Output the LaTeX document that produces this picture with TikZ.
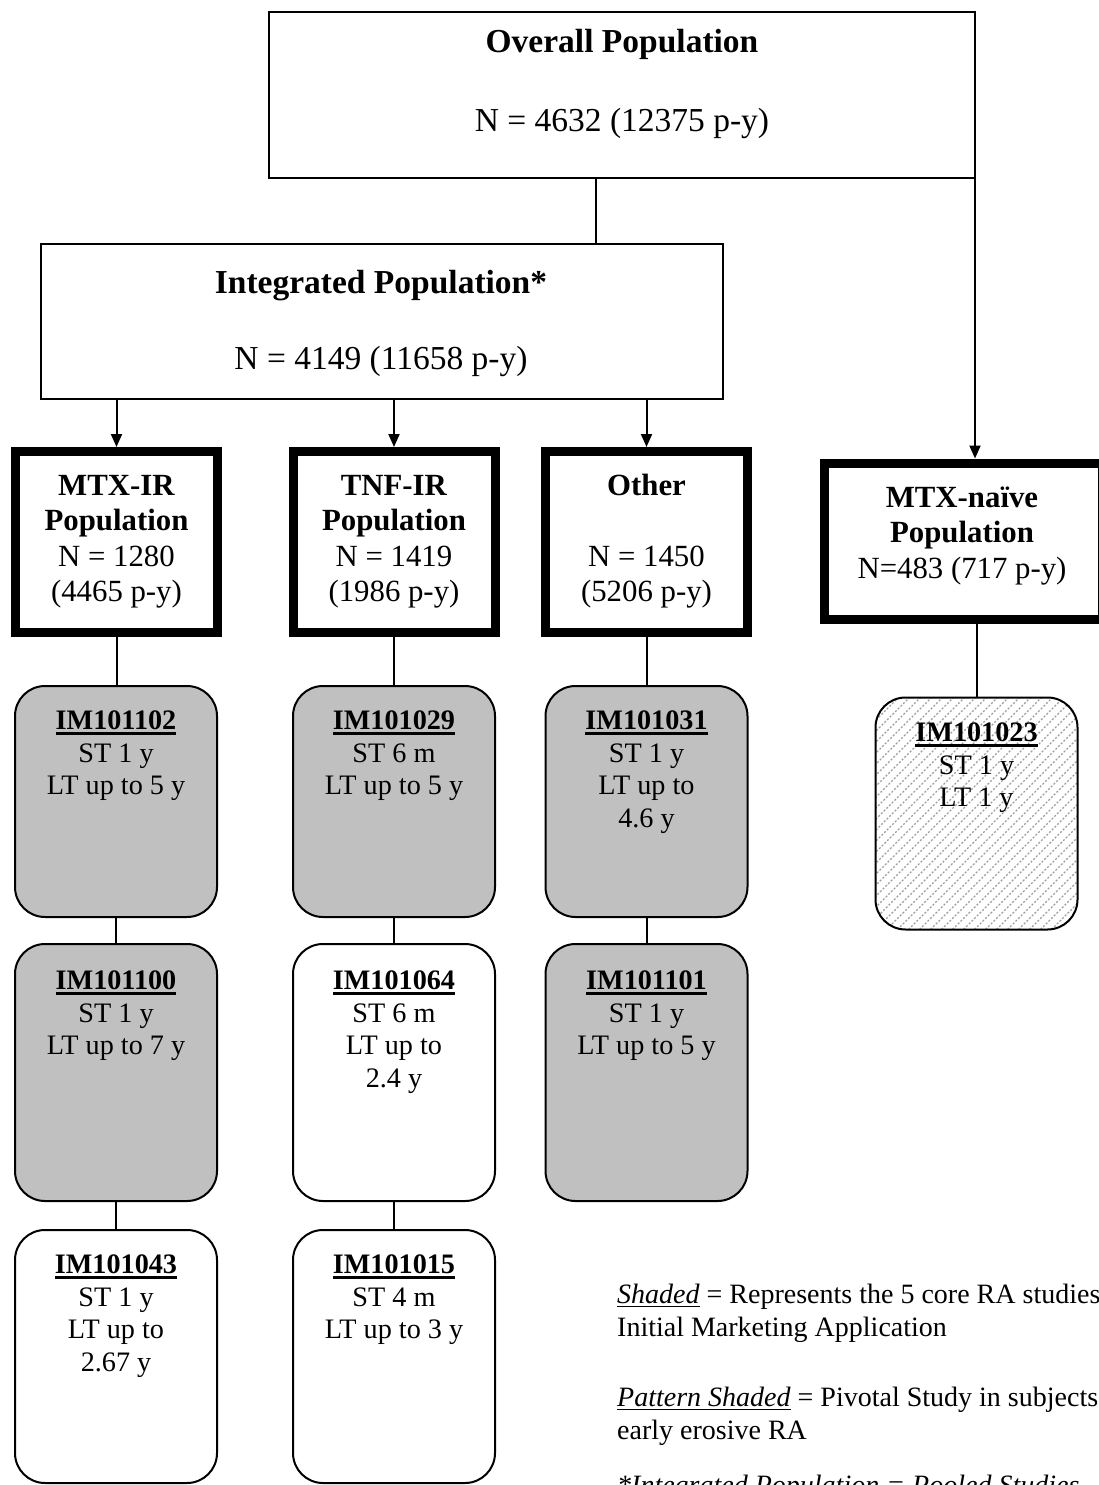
\documentclass[tikz,border=0pt]{standalone}
\usepackage{fontspec}
\setmainfont{Liberation Serif}
\usetikzlibrary{arrows.meta,calc}
\definecolor{shade}{RGB}{192,192,192}
\newcommand{\mylines}[1]{\begin{tabular}[t]{@{}c@{}}#1\end{tabular}}
\newcommand{\ulbox}[3]{\setbox0=\hbox{#3}\rlap{\rule[-#1]{\wd0}{#2}}\box0\relax}
\newcommand{\sid}[1]{\ulbox{5pt}{2.6pt}{\textbf{#1}}}
\begin{document}
\begin{tikzpicture}[x=1pt,y=-1pt,
  bigbox/.style={draw, line width=2pt, inner sep=0pt, outer sep=0pt},
  popbox/.style={draw, line width=9pt, inner sep=0pt, fill=white, minimum width=202pt, minimum height=181pt},
  studybox/.style={draw, line width=2pt, rounded corners=30pt, inner sep=0pt, outer sep=0pt, minimum width=202pt},
  shaded/.style={fill=shade},
  txtbig/.style={inner sep=0pt, anchor=base, font=\fontsize{33.5}{39.5}\selectfont},
  txtpop/.style={inner sep=0pt, anchor=base, font=\fontsize{30.8}{35.3}\selectfont},
  txtstudy/.style={inner sep=0pt, anchor=base, font=\fontsize{28.2}{32.5}\selectfont},
  legend/.style={inner sep=0pt, anchor=base west, font=\fontsize{28}{33}\selectfont},
  conn/.style={line width=2pt},
  arr/.style={line width=2pt, -{Triangle[length=13pt,width=11pt]}},
  patfill/.style={path picture={
     \foreach \i in {-242,-231,...,210} {
       \draw[gray!75, line width=1.3pt, dash pattern=on 2pt off 1.8pt]
         ($(path picture bounding box.south west)+(\i,0)$) -- ++(260,-260);
     }}}
]
\useasboundingbox (0,0) rectangle (1099,1485);
\fill[white] (0,0) rectangle (1099,1485);
\clip (0,0) rectangle (1099,1485);

% top boxes
\node[bigbox, minimum width=706pt, minimum height=166pt] (ov) at (622,95) {};
\node[txtbig] (ovt) at (622,53) {\mylines{\textbf{Overall Population}\\[39.5pt] N = 4632 (12375 p-y)}};

\node[bigbox, minimum width=682pt, minimum height=155pt] (int) at (382,321.5) {};
\node[txtbig] (intt) at (381,293) {\mylines{\textbf{Integrated Population*}\\[36.5pt] N = 4149 (11658 p-y)}};

% population boxes
\node[popbox] (mtx) at (116.5,542) {};
\node[popbox] (tnf) at (394,542) {};
\node[popbox] (oth) at (646.5,542) {};
\node[popbox, minimum width=278pt, minimum height=156pt] (naive) at (963,541) {};

\node[txtpop] (mtxt) at (116.5,495.5) {\mylines{\textbf{MTX-IR}\\\textbf{Population}\\N = 1280\\(4465 p-y)}};
\node[txtpop] (tnft) at (394,495.5) {\mylines{\textbf{TNF-IR}\\\textbf{Population}\\N = 1419\\(1986 p-y)}};
\node[txtpop] (otht) at (646.5,495.5) {\mylines{\textbf{Other}\\ \\N = 1450\\(5206 p-y)}};
\node[txtpop] (naivet) at (962,507.5) {\mylines{\textbf{MTX-naïve}\\\textbf{Population}\\N=483 (717 p-y)}};

% study boxes
\node[studybox, shaded, minimum height=231pt] (s11) at (116,801.5) {};
\node[studybox, shaded, minimum height=257pt] (s12) at (116,1072.5) {};
\node[studybox, minimum height=253pt] (s13) at (116,1356.5) {};
\node[studybox, shaded, minimum height=231pt] (s21) at (394,801.5) {};
\node[studybox, minimum height=257pt] (s22) at (394,1072.5) {};
\node[studybox, minimum height=253pt] (s23) at (394,1356.5) {};
\node[studybox, shaded, minimum height=231pt] (s31) at (646.5,801.5) {};
\node[studybox, shaded, minimum height=257pt] (s32) at (646.5,1072.5) {};
\node[studybox, patfill, minimum height=232pt] (pat) at (976.5,813.5) {};

\node[txtstudy] (s11t) at (116,729.5) {\mylines{\sid{IM101102}\\ST 1 y\\LT up to 5 y}};
\node[txtstudy] (s12t) at (116,989.5) {\mylines{\sid{IM101100}\\ST 1 y\\LT up to 7 y}};
\node[txtstudy] (s13t) at (116,1273.5) {\mylines{\sid{IM101043}\\ST 1 y\\LT up to\\2.67 y}};
\node[txtstudy] (s21t) at (394,729.5) {\mylines{\sid{IM101029}\\ST 6 m\\LT up to 5 y}};
\node[txtstudy] (s22t) at (394,989.5) {\mylines{\sid{IM101064}\\ST 6 m\\LT up to\\2.4 y}};
\node[txtstudy] (s23t) at (394,1273.5) {\mylines{\sid{IM101015}\\ST 4 m\\LT up to 3 y}};
\node[txtstudy] (s31t) at (646.5,729.5) {\mylines{\sid{IM101031}\\ST 1 y\\LT up to\\4.6 y}};
\node[txtstudy] (s32t) at (646.5,989.5) {\mylines{\sid{IM101101}\\ST 1 y\\LT up to 5 y}};
\node[txtstudy] (patt) at (976.5,741.5) {\mylines{\sid{IM101023}\\ST 1 y\\LT 1 y}};

% connectors
\coordinate (j) at (596,0);
\draw[conn] (ov.south -| j) -- (int.north -| j);
\draw[arr] (ov.south east) -- (ov.south east |- naive.north);
\draw[arr] (int.south -| mtx.north) -- (mtx.north);
\draw[arr] (int.south -| tnf.north) -- (tnf.north);
\draw[arr] (int.south -| oth.north) -- (oth.north);
\draw[conn] (mtx.south) -- (mtx.south |- s11.north);
\draw[conn] (tnf.south) -- (tnf.south |- s21.north);
\draw[conn] (oth.south) -- (oth.south |- s31.north);
\draw[conn] (pat.north |- naive.south) -- (pat.north);
\draw[conn] (s11.south) -- (s12.north);
\draw[conn] (s12.south) -- (s13.north);
\draw[conn] (s21.south) -- (s22.north);
\draw[conn] (s22.south) -- (s23.north);
\draw[conn] (s31.south) -- (s32.north);

% legend
\node[legend] (lg1) at (617,1303) {\ulbox{4pt}{1.5pt}{\textit{Shaded}} = Represents the 5 core RA studies};
\node[legend] (lg2) at (617,1336) {Initial Marketing Application};
\node[legend] (lg3) at (617,1406) {\ulbox{4pt}{1.5pt}{\textit{Pattern Shaded}} = Pivotal Study in subjects};
\node[legend] (lg4) at (617,1439) {early erosive RA};
\node[legend] (lg5) at (617,1494) {\textit{*Integrated Population = Pooled Studies}};
\end{tikzpicture}
\end{document}
